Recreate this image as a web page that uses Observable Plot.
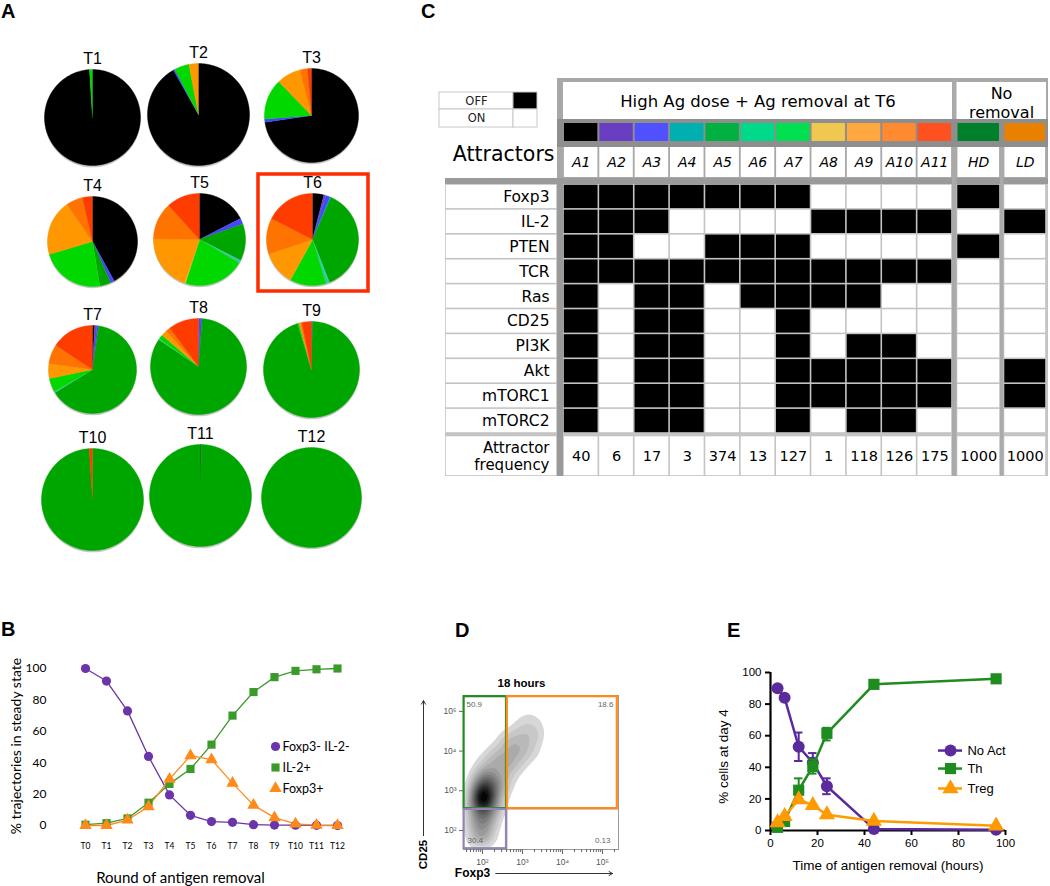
<!DOCTYPE html>
<html><head><meta charset="utf-8">
<script src="https://cdn.jsdelivr.net/npm/d3@7"></script>
<script src="https://cdn.jsdelivr.net/npm/@observablehq/plot@0.6"></script>
<style>
body{margin:0;background:#fff;}
#fig{position:relative;width:1050px;height:886px;overflow:hidden;background:#fff;}
.letter{position:absolute;font-family:"Liberation Sans",Arial,sans-serif;font-weight:700;font-size:20px;line-height:normal;color:#000;}
</style></head><body><div id="fig"></div>
<script>
// ================= DATA =================
// Panel A / C : attractors
const attractors = ["A1","A2","A3","A4","A5","A6","A7","A8","A9","A10","A11"];
const tableColumns = ["A1","A2","A3","A4","A5","A6","A7","A8","A9","A10","A11","HD","LD"];
const rounds = ["T1","T2","T3","T4","T5","T6","T7","T8","T9","T10","T11","T12"];
// trajectories (out of 1000) reaching each attractor A1..A11, per round
const pieCounts = [
  [990,0,0,0,0,0,10,0,0,0,0],            // T1
  [918,0,5,0,0,0,47,0,30,0,0],           // T2
  [727,0,11,0,0,0,140,0,83,25,14],       // T3
  [420,0,14,0,40,0,230,0,200,60,36],     // T4
  [175,0,20,0,130,10,215,3,200,130,117], // T5
  [40,6,17,3,374,13,127,1,118,126,175],  // T6
  [8,8,6,0,640,5,50,0,55,71,157],        // T7
  [0,6,6,0,833,3,15,0,20,15,102],        // T8
  [0,3,0,0,950,0,5,0,5,5,32],            // T9
  [0,0,0,0,990,0,0,0,0,0,10],            // T10
  [3,0,0,0,997,0,0,0,0,0,0],             // T11
  [0,0,0,0,1000,0,0,0,0,0,0]             // T12
];
const pieColors = ["#000000","#6b3fc8","#4646ff","#00a8a8","#00a600","#33cca0","#00d800","#f0c840","#ff9800","#ff7400","#ff3c00"];
const tableColors = ["#000000","#6a3ec0","#5050ff","#00b0b0","#00b040","#00d88a","#00e050","#f0c850","#ffa840","#ff8a30","#ff5020","#00802a","#e88000"];
const genes = ["Foxp3","IL-2","PTEN","TCR","Ras","CD25","PI3K","Akt","mTORC1","mTORC2"];
// 0 = OFF (black), 1 = ON (white); columns A1..A11, HD, LD
const geneStates = [
  [0,0,0,0,0,0,0,1,1,1,1,0,1],
  [0,0,0,1,1,1,1,0,0,0,0,1,0],
  [0,0,1,1,0,0,0,1,1,1,1,0,1],
  [0,0,0,0,0,0,0,0,0,0,0,1,1],
  [0,1,0,0,1,0,0,0,0,1,1,1,1],
  [0,1,0,0,1,1,0,1,1,1,1,1,1],
  [0,1,0,0,1,1,0,1,0,0,1,1,1],
  [0,1,0,0,1,1,0,0,0,0,0,1,0],
  [0,1,0,0,1,1,0,0,0,0,0,1,0],
  [0,1,0,0,1,1,0,1,0,0,1,1,1]
];
const attractorFrequency = [40,6,17,3,374,13,127,1,118,126,175,1000,1000];

// Panel B
const bRounds = ["T0","T1","T2","T3","T4","T5","T6","T7","T8","T9","T10","T11","T12"];
const bSeries = ["Foxp3- IL-2-","IL-2+","Foxp3+"];
const bNeither = [100,92,73,44,19.5,6.5,2.5,2,0.5,0.3,0.2,0.1,0];
const bIL2 = [0.5,1.5,4.5,14.5,26.5,36,51.5,70,85,94.5,98.5,99.5,100];
const bFoxp3 = [0,0,3.5,12,29.5,44.5,42,27,13,5,1,0.2,0];

// Panel D (log10 fluorescence): estimated density ridge [log Foxp3, log CD25, weight]
const cloudPts = [
  [1.85,1.8,3],[2.0,1.9,4],[2.15,1.85,2],
  [1.8,2.2,4],[2.0,2.3,6],[2.2,2.25,4],
  [1.85,2.6,6],[2.0,2.7,9],[2.2,2.65,6],[2.4,2.6,2],
  [1.9,2.95,8],[2.05,2.95,10],[2.25,3.0,6],[2.5,3.0,2],
  [1.95,3.3,5],[2.15,3.3,6],[2.4,3.3,4],[2.7,3.35,2],
  [2.05,3.65,3],[2.35,3.7,4],[2.65,3.7,4],[2.95,3.7,2],
  [2.3,4.0,2],[2.65,4.05,4],[2.95,4.05,4],[3.25,4.0,2],
  [2.6,4.35,2],[2.95,4.4,3],[3.3,4.4,3],
  [3.0,4.7,1.5],[3.35,4.75,1.5],[3.1,5.0,0.5]
];
const gateColors = ["#1f8c1f","#ff8a1a","#9484b6"];
const gateX1 = [1.54,2.62,1.54], gateX2 = [2.6,5.37,2.6];
const gateY1 = [2.55,2.55,1.54], gateY2 = [5.37,5.37,2.53];
const quadrantPct = ["50.9","18.6","30.4","0.13"];

// Panel E
const eSeries = ["No Act","Th","Treg"];
const eHours = [3,6,12,18,24,44,96];
const eNoAct = [90,84,53,43,28,1,0.5];
const eTh = [2,5.7,25.5,40.5,61.5,92.5,96];
const eTreg = [5,9,19.5,16,10,6,3];
const eNoActLo = [null,null,44,38,23,null,null];
const eNoActHi = [null,null,62,49,33,null,null];
const eThLo = [null,null,18,36,57,null,null];
const eThHi = [null,null,33,45,65,null,null];

// ================= LAYOUT =================
const fig = document.getElementById("fig");
function place(el, left, top){ el.style.position="absolute"; el.style.left=left+"px"; el.style.top=top+"px"; fig.appendChild(el); }

// ---------- Panel A ----------
const pieCX = [92,198,311, 92,199,312, 92,198,311, 92,200,311];
const pieCY = [117,114,115, 241,239,239, 369,366,369, 499,495,497];
const pieR  = [48,51,47, 45,46,46, 44,48,48, 51,51,50];
const pieMeta = rounds.map((name,k)=>({name, cx:pieCX[k], cy:pieCY[k], r:pieR[k]}));
const slices = [];
pieCounts.forEach((counts,k)=>{
  const arcs = d3.pie().sort(null)(counts);
  arcs.forEach((a,i)=>{
    if (a.value <= 0) return;
    const id = rounds[k]+"-"+attractors[i];
    const span = a.endAngle - a.startAngle;
    const n = Math.max(2, Math.ceil(span/0.02));
    slices.push({id, x:pieCX[k], y:pieCY[k], fill:pieColors[i]});
    for (let s=0; s<=n; s++){
      const t = a.startAngle + span*s/n;
      slices.push({id, x:pieCX[k]+pieR[k]*Math.sin(t), y:pieCY[k]-pieR[k]*Math.cos(t), fill:pieColors[i]});
    }
  });
});
const t6 = pieMeta[5];
const plotA = Plot.plot({
  width:420, height:570, margin:0,
  x:{domain:[0,420], range:[0,420], axis:null},
  y:{domain:[0,570], range:[0,570], axis:null},
  color:{type:"identity"}, r:{type:"identity"},
  style:{fontFamily:"'Liberation Sans',Arial,sans-serif", background:"transparent"},
  marks:[
    Plot.dot(pieMeta, {x:"cx", y:d=>d.cy+1.8, r:"r", fill:"#000", fillOpacity:0.22}),
    Plot.line(slices, {x:"x", y:"y", z:"id", fill:"fill", stroke:"fill", strokeWidth:0.4, curve:"linear"}),
    Plot.text(pieMeta, {x:"cx", y:d=>d.cy-d.r-11, text:"name", fontSize:16, fill:"#000"}),
    Plot.rect([t6], {x1:d=>d.cx-54, x2:d=>d.cx+56, y1:d=>d.cy-65, y2:d=>d.cy+52, fill:"none", stroke:"#ff2a00", strokeWidth:3.5})
  ]
});
place(plotA, 0, 0);

// ---------- Panel C ----------
const colW = 389/11;
const colEdges = tableColumns.map((c,i)=> i<11 ? [563+i*colW, 563+(i+1)*colW] : (i===11 ? [956.5,1000] : [1003.5,1046]));
const rowTop = 184, rowH = 24.9;
const cx = i => (colEdges[i][0]+colEdges[i][1])/2;
const frame = [
  {x1:557,x2:1048,y1:78,y2:184,fill:"#a8a8a8"},
  {x1:445,x2:1048,y1:178,y2:476,fill:"#c4c4c4"},
  {x1:445,x2:1048,y1:178,y2:184,fill:"#9a9a9a"},
  {x1:557,x2:563,y1:178,y2:476,fill:"#9a9a9a"},
  {x1:952,x2:956.5,y1:78,y2:476,fill:"#aaaaaa"},
  {x1:1000,x2:1003.5,y1:78,y2:476,fill:"#aaaaaa"},
  {x1:557,x2:1048,y1:119,y2:147,fill:"#8e8e8e"},
  {x1:563,x2:952,y1:82,y2:119,fill:"#fff"},
  {x1:956.5,x2:1046,y1:82,y2:119,fill:"#fff"}
];
const stripCells = tableColumns.map((c,i)=>({x1:colEdges[i][0],x2:colEdges[i][1],y1:123,y2:141,fill:tableColors[i]}));
const nameCells = tableColumns.map((c,i)=>({x1:colEdges[i][0],x2:colEdges[i][1],y1:147,y2:177,fill:"#fff"}));
const geneCells = [];
genes.forEach((g,gi)=>tableColumns.forEach((c,ci)=>geneCells.push({
  x1:colEdges[ci][0], x2:colEdges[ci][1], y1:rowTop+gi*rowH, y2:rowTop+(gi+1)*rowH,
  fill: geneStates[gi][ci]===0 ? "#000" : "#fff"})));
const labelCells = genes.map((g,gi)=>({x1:445,x2:557,y1:rowTop+gi*rowH,y2:rowTop+(gi+1)*rowH,fill:"#fff"}));
const freqTop = rowTop+10*rowH+2.5, freqBot = 476;
const freqCells = tableColumns.map((c,i)=>({x1:colEdges[i][0],x2:colEdges[i][1],y1:freqTop,y2:freqBot,fill:"#fff"}));
freqCells.push({x1:445,x2:557,y1:freqTop,y2:freqBot,fill:"#fff"});
const keyCells = [
  {x1:439,x2:513,y1:92,y2:109,fill:"#fff"},{x1:513,x2:537,y1:92,y2:109,fill:"#000"},
  {x1:439,x2:513,y1:109,y2:127,fill:"#fff"},{x1:513,x2:537,y1:109,y2:127,fill:"#fff"}
];
const freqMid = (freqTop+freqBot)/2;
const tFont = "'DejaVu Sans',Verdana,sans-serif";
const plotC = Plot.plot({
  width:630, height:415, margin:0,
  x:{domain:[420,1050], range:[0,630], axis:null},
  y:{domain:[70,485], range:[0,415], axis:null},
  color:{type:"identity"},
  style:{fontFamily:tFont, background:"transparent"},
  marks:[
    Plot.rect(frame, {x1:"x1",x2:"x2",y1:"y1",y2:"y2",fill:"fill"}),
    Plot.rect(stripCells, {x1:"x1",x2:"x2",y1:"y1",y2:"y2",fill:"fill",insetLeft:1,insetRight:1}),
    Plot.rect(nameCells, {x1:"x1",x2:"x2",y1:"y1",y2:"y2",fill:"fill",insetLeft:0.9,insetRight:0.9}),
    Plot.rect(geneCells, {x1:"x1",x2:"x2",y1:"y1",y2:"y2",fill:"fill",inset:0.8}),
    Plot.rect(labelCells, {x1:"x1",x2:"x2",y1:"y1",y2:"y2",fill:"fill",inset:0.8}),
    Plot.rect(freqCells, {x1:"x1",x2:"x2",y1:"y1",y2:"y2",fill:"fill",inset:0.8}),
    Plot.rect(keyCells, {x1:"x1",x2:"x2",y1:"y1",y2:"y2",fill:"fill",stroke:"#c8c8c8",strokeWidth:1}),
    Plot.text(["OFF","ON"], {x:()=>476, y:(d,i)=>i===0?100.5:118, text:d=>d, fontSize:11.5, fill:"#222"}),
    Plot.text(["High Ag dose + Ag removal at T6"], {x:()=>757.5, y:()=>101, text:d=>d, fontSize:16.5, fill:"#000"}),
    Plot.text(["No\nremoval"], {x:()=>1001, y:()=>102, text:d=>d, fontSize:16, lineHeight:1.15, fill:"#000"}),
    Plot.text(tableColumns, {x:(d,i)=>cx(i), y:()=>162.5, text:d=>d, fontSize:14, fontStyle:"italic", fill:"#000"}),
    Plot.text(["Attractors"], {x:()=>554, y:()=>154, text:d=>d, fontSize:20.5, textAnchor:"end", fill:"#000"}),
    Plot.text(genes, {x:()=>549, y:(d,i)=>rowTop+(i+0.5)*rowH, text:d=>d, fontSize:15.5, textAnchor:"end", fill:"#000"}),
    Plot.text(["Attractor\nfrequency"], {x:()=>549, y:()=>freqMid, text:d=>d, fontSize:15, lineHeight:1.15, textAnchor:"end", fill:"#000"}),
    Plot.text(attractorFrequency, {x:(d,i)=>cx(i), y:()=>freqMid, text:d=>String(d), fontSize:14.5, fill:"#000"})
  ]
});
place(plotC, 420, 70);

// ---------- Panel B ----------
const bValues = [bNeither, bIL2, bFoxp3];
const bColors = ["#6a35a8","#3a9a2a","#ff8a1a"];
const bSymbols = ["circle","square","triangle"];
const bData = [];
bSeries.forEach((s,i)=>bRounds.forEach((r,j)=>bData.push({series:s, round:r, value:bValues[i][j]})));
const bLegend = [];
bSeries.forEach((s,i)=>{
  bLegend.push(Plot.text(["\u2013"], {frameAnchor:"top-left", dx:220, dy:78+i*21, text:d=>d, fill:bColors[i], fontSize:14, textAnchor:"middle", lineAnchor:"middle"}));
  bLegend.push(Plot.dot([s], {frameAnchor:"top-left", dx:220, dy:78+i*21, fill:bColors[i], symbol:bSymbols[i], r:4.6}));
  bLegend.push(Plot.text([s], {frameAnchor:"top-left", dx:227, dy:78+i*21, text:d=>d, fill:"#000", fontSize:12.5, textAnchor:"start", lineAnchor:"middle"}));
});
const plotB = Plot.plot({
  width:400, height:246, marginLeft:55, marginRight:95, marginTop:28, marginBottom:51,
  style:{fontFamily:"Lato,'Open Sans',sans-serif", background:"transparent", color:"#000"},
  x:{type:"point", domain:bRounds, range:[73,348]},
  y:{domain:[0,100], range:[185,28]},
  color:{domain:bSeries, range:bColors},
  symbol:{domain:bSeries, range:bSymbols},
  marks:[
    Plot.axisY({ticks:[0,20,40,60,80,100], tickSize:0, tickPadding:9, fontSize:12, label:null}),
    Plot.axisX({tickSize:0, tickPadding:7, fontSize:8.5, label:null}),
    Plot.line(bData, {x:"round", y:"value", stroke:"series", strokeWidth:1.3}),
    Plot.dot(bData, {x:"round", y:"value", fill:"series", symbol:"series", r:4.6}),
    ...bLegend,
    Plot.text(["Round of antigen removal"], {frameAnchor:"bottom", dy:43, text:d=>d, fontSize:15, fill:"#000", textAnchor:"middle", lineAnchor:"middle"}),
    Plot.text(["% trajectories in steady state"], {frameAnchor:"left", dx:-39, dy:-6, rotate:-90, text:d=>d, fontSize:14, fill:"#000", textAnchor:"middle", lineAnchor:"middle"})
  ]
});
place(plotB, 0, 640);

// ---------- Panel D ----------
const sup = {2:"\u00b2",3:"\u00b3",4:"\u2074",5:"\u2075"};
const majorTicks = [1e2,1e3,1e4,1e5];
const minorTicks = [];
for (let e=1; e<=5; e++) for (let m=1; m<=9; m++){ const v=m*10**e; if (v>10**1.53 && v<10**5.4) minorTicks.push(v); }
const gates = gateColors.map((c,i)=>({color:c, x1:10**gateX1[i], x2:10**gateX2[i], y1:10**gateY1[i], y2:10**gateY2[i]}));
const pctAnchors = [["top-left",3,9,"start"],["top-right",-5,9,"end"],["bottom-left",4,-9,"start"],["bottom-right",-8,-9,"end"]];
const plotD = Plot.plot({
  width:260, height:246, marginLeft:63, marginRight:42, marginTop:55, marginBottom:37,
  style:{fontFamily:"'Liberation Sans',Arial,sans-serif", background:"transparent", color:"#000"},
  x:{type:"log", domain:[10**1.525, 10**5.4]},
  y:{type:"log", domain:[10**1.52, 10**5.4]},
  color:{type:"linear", range:["#e6e6e6","#050505"]},
  marks:[
    Plot.density(cloudPts, {x:d=>10**d[0], y:d=>10**d[1], weight:d=>d[2], bandwidth:5.5, thresholds:16, fill:"density", clip:true}),
    Plot.frame({stroke:"#9a9a9a"}),
    Plot.ruleX([10**2.61], {y1:10**1.52, y2:10**2.54, stroke:"#aaa"}),
    Plot.ruleY([10**2.54], {x1:10**2.61, x2:10**5.4, stroke:"#aaa"}),
    ...gates.map(g=>Plot.rect([g], {x1:"x1", x2:"x2", y1:"y1", y2:"y2", fill:"none", stroke:g.color, strokeWidth:2.2})),
    Plot.axisX({ticks:minorTicks, tickSize:3, tickFormat:()=>"", stroke:"#666"}),
    Plot.axisX({ticks:majorTicks, tickSize:5, tickPadding:4, tickFormat:d=>"10"+sup[Math.round(Math.log10(d))], fontSize:8.5, fill:"#555", stroke:"#666"}),
    Plot.axisY({ticks:majorTicks, tickSize:4, tickPadding:3, tickFormat:d=>"10"+sup[Math.round(Math.log10(d))], fontSize:8.5, fill:"#555", stroke:"#666", label:null}),
    ...quadrantPct.map((p,i)=>Plot.text([p], {frameAnchor:pctAnchors[i][0], dx:pctAnchors[i][1], dy:pctAnchors[i][2], textAnchor:pctAnchors[i][3], lineAnchor:"middle", text:d=>d, fontSize:8, fill:"#666"})),
    Plot.text(["18 hours"], {x:()=>10**2.975, frameAnchor:"top", dy:-12, lineAnchor:"middle", text:d=>d, fontSize:11.5, fontWeight:"bold"}),
    Plot.arrow([0], {x1:()=>10**0.525, y1:()=>10**1.87, x2:()=>10**0.525, y2:()=>10**5.27, stroke:"#333", strokeWidth:1, headLength:6}),
    Plot.arrow([0], {x1:()=>10**2.33, y1:()=>10**0.915, x2:()=>10**5.25, y2:()=>10**0.915, stroke:"#333", strokeWidth:1, headLength:6}),
    Plot.text(["CD25"], {x:()=>10**0.525, y:()=>10**1.394, rotate:-90, text:d=>d, fontSize:11.5, fontWeight:"bold"}),
    Plot.text(["Foxp3"], {x:()=>10**1.75, y:()=>10**0.915, text:d=>d, fontSize:12, fontWeight:"bold"})
  ]
});
place(plotD, 400, 640);

// ---------- Panel E ----------
const eColors = ["#5b2a9c","#1f8c1f","#ff9a00"];
const eSymbols = ["circle","square","triangle"];
const eVals = [eNoAct, eTh, eTreg];
const eLo = [eNoActLo, eThLo, null];
const eHi = [eNoActHi, eThHi, null];
const eLegendY = [50.6, 39.2, 26.6];
const eMarks = [];
eSeries.forEach((s,i)=>{
  const pts = eHours.map((h,j)=>({series:s, h, v:eVals[i][j], lo:eLo[i]?eLo[i][j]:null, hi:eHi[i]?eHi[i][j]:null}));
  const err = pts.filter(d=>d.lo!=null);
  eMarks.push(Plot.line(pts, {x:"h", y:"v", stroke:eColors[i], strokeWidth:2.5}));
  if (err.length){
    eMarks.push(Plot.ruleX(err, {x:"h", y1:"lo", y2:"hi", stroke:eColors[i], strokeWidth:2}));
    eMarks.push(Plot.ruleY(err, {y:"lo", x1:d=>d.h-1.8, x2:d=>d.h+1.8, stroke:eColors[i], strokeWidth:2}));
    eMarks.push(Plot.ruleY(err, {y:"hi", x1:d=>d.h-1.8, x2:d=>d.h+1.8, stroke:eColors[i], strokeWidth:2}));
  }
  eMarks.push(Plot.dot(pts, {x:"h", y:"v", fill:eColors[i], symbol:eSymbols[i], r:i===1?6.3:6}));
});
eSeries.forEach((s,i)=>{
  eMarks.push(Plot.ruleY([eLegendY[i]], {x1:71.5, x2:81.7, stroke:eColors[i], strokeWidth:2.5}));
  eMarks.push(Plot.dot([s], {x:()=>76.6, y:()=>eLegendY[i], fill:eColors[i], symbol:eSymbols[i], r:i===1?6.3:6}));
  eMarks.push(Plot.text([s], {x:()=>83.8, y:()=>eLegendY[i], text:d=>d, textAnchor:"start", fontSize:13, fill:"#000"}));
});
const plotE = Plot.plot({
  width:390, height:246, marginLeft:110, marginRight:45, marginTop:32, marginBottom:56,
  style:{fontFamily:"'Liberation Sans',Arial,sans-serif", background:"transparent", color:"#000"},
  x:{domain:[0,100]},
  y:{domain:[0,100]},
  marks:[
    Plot.axisY({ticks:[0,20,40,60,80,100], tickSize:5, tickPadding:4, fontSize:11.5, strokeWidth:2, label:null}),
    Plot.axisX({ticks:[0,20,40,60,80,100], tickSize:5, tickPadding:3, fontSize:11.5, strokeWidth:2, label:null}),
    Plot.ruleX([0], {y1:0, y2:100, strokeWidth:2.2}),
    Plot.ruleY([0], {x1:0, x2:100, strokeWidth:2.2}),
    ...eMarks,
    Plot.text(["Time of antigen removal (hours)"], {frameAnchor:"bottom", dy:35, text:d=>d, fontSize:13.5, fill:"#000", textAnchor:"middle", lineAnchor:"middle"}),
    Plot.text(["% cells at day 4"], {frameAnchor:"left", dx:-47, dy:5, rotate:-90, text:d=>d, fontSize:13.5, fill:"#000", textAnchor:"middle", lineAnchor:"middle"})
  ]
});
place(plotE, 660, 640);

// ---------- Panel letters ----------
[["A",1,0],["B",1,618],["C",421,0],["D",455,619],["E",727,619]].forEach(([t,l,tp])=>{
  const d = document.createElement("div"); d.className="letter"; d.textContent=t;
  d.style.left=l+"px"; d.style.top=tp+"px"; fig.appendChild(d);
});
</script>
</body></html>
